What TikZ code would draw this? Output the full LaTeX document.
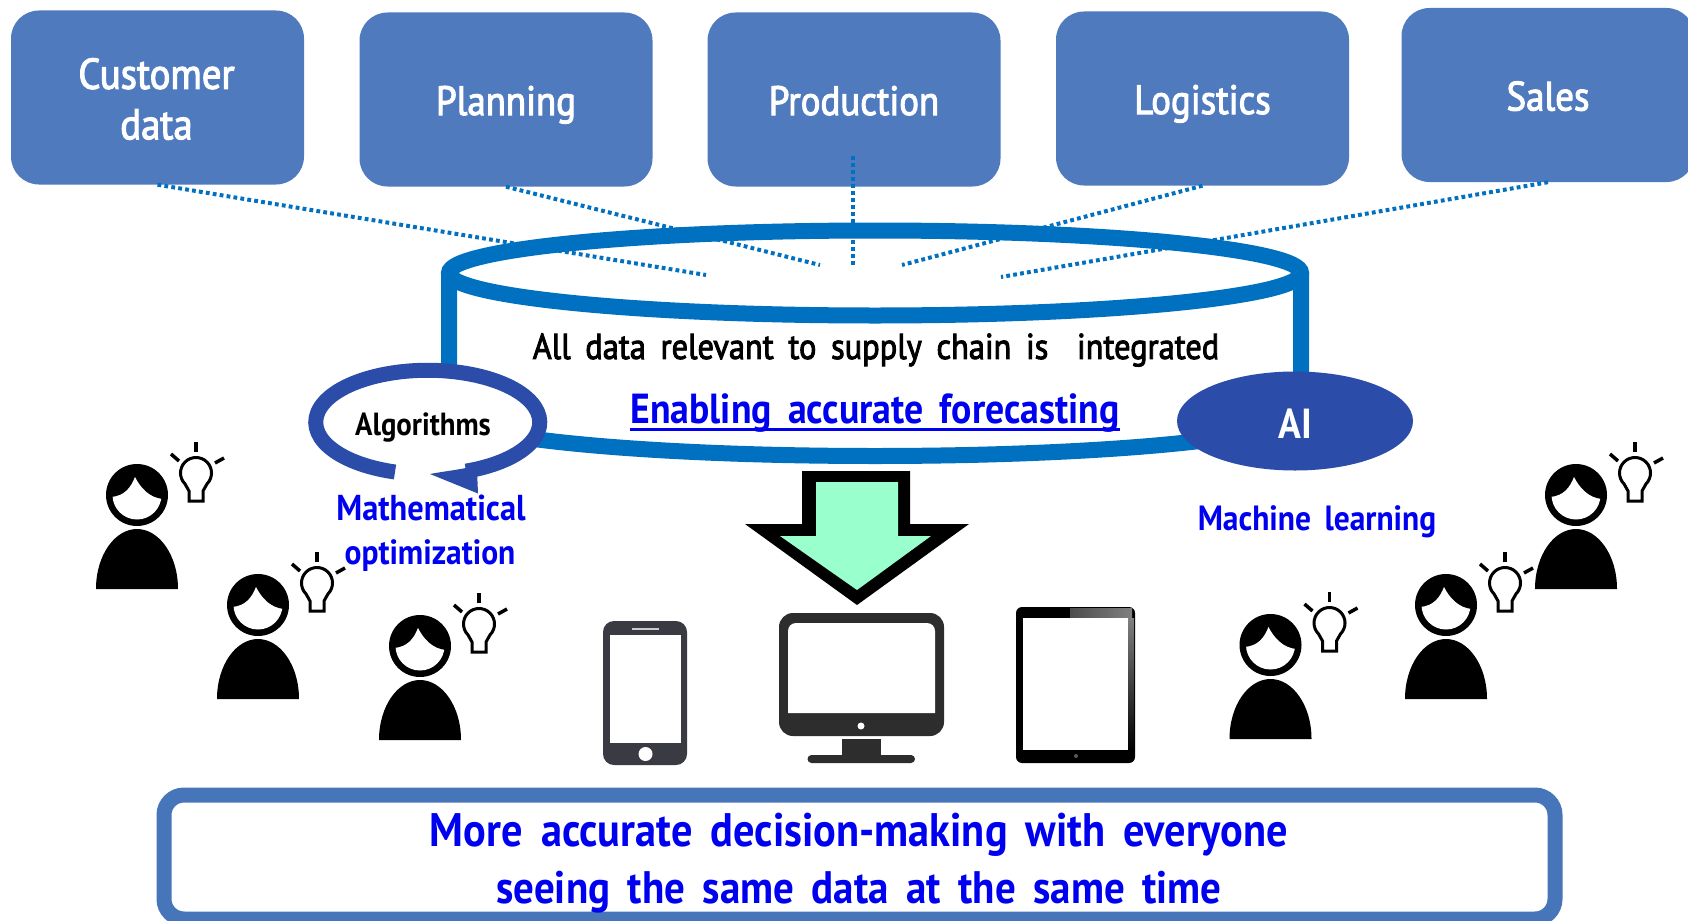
\documentclass[tikz,border=0pt]{standalone}
\usepackage{fontspec}
\setmainfont{PT Sans}[WordSpace=1.7,FakeStretch=0.9]
\newfontfamily\medf{PT Sans}[WordSpace=1.7,FakeStretch=0.9,FakeBold=2.5]
\usetikzlibrary{calc,shapes.geometric}
\definecolor{boxblue}{HTML}{4F7ABE}
\definecolor{ringblue}{HTML}{0070C0}
\definecolor{aiblue}{HTML}{2B4CA9}
\definecolor{framblue}{HTML}{4675BA}
\definecolor{txtblue}{HTML}{0000F0}
\definecolor{mint}{HTML}{99FFCC}
\definecolor{devdark}{HTML}{2D2D2D}
\definecolor{phonedark}{HTML}{3A3A42}
\tikzset{
  x=1pt,y=1pt,
  topbox/.style={fill=boxblue,rounded corners=28pt,minimum width=293pt,minimum height=174pt,inner sep=0pt,text=white,align=center,font=\medf\fontsize{41}{52}\selectfont},
  onelabel/.style={text height=31pt,text depth=0pt},
  bluetxt/.style={text=txtblue,inner sep=0pt,align=center,font=\fontsize{36}{44}\selectfont\bfseries},
  dotline/.style={draw=ringblue,line width=4pt,dash pattern=on 3.8pt off 3.2pt},
  ringline/.style={draw=ringblue,line width=16pt},
  person/.pic={
    \fill[black] (0,0) circle[radius=31];
    \begin{scope}
      \clip (0,0) circle[radius=24.5];
      \fill[white] (-26,-2) .. controls (-12,-1) and (-6,8) .. (-2,18) .. controls (3,8) and (12,-3) .. (26,-4) -- (26,-30) -- (-26,-30) -- cycle;
    \end{scope}
    \fill[black] (-41,-94) .. controls (-41,-60) and (-22,-34) .. (0,-34) .. controls (22,-34) and (41,-60) .. (41,-94) -- cycle;
    \begin{scope}[shift={(59,22)},line width=3pt,draw=black]
      \draw (7,-28) -- (7,-18) -- ({15.5*cos(-45)},{15.5*sin(-45)}) arc[start angle=-45,end angle=225,radius=15.5] -- (-7,-18) -- (-7,-28) -- cycle;
      \draw[line width=3.5pt] (0,21) -- (0,31);
      \draw[line width=3.5pt] (-17,12) -- (-25,19);
      \draw[line width=3.5pt] (19,10) -- (28,15);
    \end{scope}
  }
}
\begin{document}
\begin{tikzpicture}
\useasboundingbox (0,0) rectangle (1688,-920.5);
\fill[white] (0,0) rectangle (1688,-922);
% dotted end points
\coordinate (e1) at (706,-275);
\coordinate (e2) at (820,-265);
\coordinate (e3) at (853,-266);
\coordinate (e4) at (902,-265);
\coordinate (e5) at (1001,-277);
\coordinate (s3) at (853,-156);
% top boxes
\node[topbox] (cust) at (157.5,-97.5) {};
\node[inner sep=0pt,text=white,align=center,font=\medf\fontsize{43}{50.5}\selectfont] (custtxt) at (156.5,-99) {Customer\\data};
\node[topbox,onelabel] (plan) at (506,-99.5) {Planning};
\node[topbox,onelabel] (prod) at (854,-99.5) {Production};
\node[topbox,onelabel] (logi) at (1202.5,-98.5) {Logistics};
\node[topbox,onelabel] (sale) at (1548,-95) {Sales};
% dotted connectors
\draw[dotline] (cust.south) -- (e1);
\draw[dotline] (plan.south) -- (e2);
\draw[dotline] (s3) -- (e3);
\draw[dotline] (logi.south) -- (e4);
\draw[dotline] (sale.south) -- (e5);
% cylinder
\draw[ringline] (875,-273) ellipse[x radius=426,y radius=42.5];
\draw[ringline] (449,-273) -- (449,-413.5) arc[start angle=180,end angle=360,x radius=426,y radius=42.5] -- (1301,-273);
% cylinder text
\node[inner sep=0pt,font=\medf\fontsize{36}{40}\selectfont] (all) at (876,-350) {All data relevant to supply chain is\hspace{14pt} integrated};
\node[inner sep=0pt,text=txtblue,font=\fontsize{42}{40}\selectfont\bfseries] (fc) at (875,-413) {Enabling accurate forecasting};
\draw[txtblue,line width=3pt] ($(fc.base west)+(0,-6)$) -- ($(fc.base east)+(0,-6)$);
% AI
\node[ellipse,draw=none,fill=aiblue,minimum width=236pt,minimum height=99pt,inner sep=0pt] (ai) at (1295,-421) {};
\node[inner sep=0pt,text=white,font=\fontsize{42}{40}\selectfont\bfseries] (aitxt) at (1295,-424) {AI};
\node[bluetxt,font=\fontsize{35}{44}\selectfont\bfseries] (ml) at (1317,-522) {Machine learning};
% Algorithms callout
\fill[white] (428,-422) ellipse[x radius=112,y radius=52];
\draw[draw=aiblue,line width=15pt] (395,-472) arc[start angle=253,end angle=-70,x radius=112,y radius=52];
\fill[aiblue] (430,-474) -- (478,-493.5) -- (477,-470) -- (466,-468) .. controls (450,-471) and (440,-472) .. cycle;
\node[inner sep=0pt,font=\fontsize{32}{40}\selectfont\bfseries] (alg) at (423,-428) {Algorithms};
\node[bluetxt] (math) at (431,-508) {Mathematical};
\node[bluetxt,font=\fontsize{35}{44}\selectfont\bfseries] (opt) at (430,-556) {optimization};
% big arrow
\fill[black] (802,-471) -- (910,-471) -- (910,-524) -- (969,-524) -- (857,-605) -- (745,-524) -- (802,-524) -- cycle;
\fill[mint] (816,-482) -- (898,-482) -- (898,-536) -- (931,-536) -- (857,-590) -- (780,-536) -- (816,-536) -- cycle;
% people
\pic at (137,-495) {person};
\pic at (258,-605) {person};
\pic at (420,-646) {person};
\pic at (1270.5,-645) {person};
\pic at (1446,-605) {person};
\pic at (1576,-495) {person};
% phone
\fill[phonedark,rounded corners=11pt] (603,-621) rectangle (687,-765);
\fill[white] (610,-635) rectangle (681,-743);
\fill[white!80!black] (632,-628) rectangle (659,-630);
\fill[white] (645.5,-754) circle[radius=7];
% monitor
\fill[devdark,rounded corners=14pt] (779,-613) rectangle (944,-736);
\fill[white] (788,-713) -- (788,-631) to[out=90,in=180] (796,-623) -- (927,-623) to[out=0,in=90] (935,-631) -- (935,-713) -- cycle;
\fill[white] (861,-726) circle[radius=3.5];
\fill[devdark] (842,-739) rectangle (881,-757);
\fill[devdark,rounded corners=4pt] (807.5,-755) rectangle (915,-763);
% tablet
\fill[black,rounded corners=6pt] (1016,-607) rectangle (1135,-763);
\shade[left color=white!30!black,right color=white!50!black] (1070,-608) rectangle (1132,-618);
\shade[top color=white!50!black,bottom color=black] (1127.5,-618) rectangle (1134,-750);
\fill[white] (1023,-618) rectangle (1127.5,-750);
\fill[white!35!black] (1076,-756) circle[radius=2];
% bottom frame
\node[draw=framblue,line width=15pt,fill=white,rounded corners=20pt,minimum width=1391pt,minimum height=124pt,inner sep=0pt] (frame) at (859.5,-857) {};
\node[inner sep=0pt,text=txtblue,align=center,font=\fontsize{47}{57}\selectfont\bfseries] (concl) at (859,-863) {\fontsize{47}{57}\selectfont More accurate decision-making with everyone\\\fontsize{45.5}{57}\selectfont seeing the same data at the same time};
\end{tikzpicture}
\end{document}
